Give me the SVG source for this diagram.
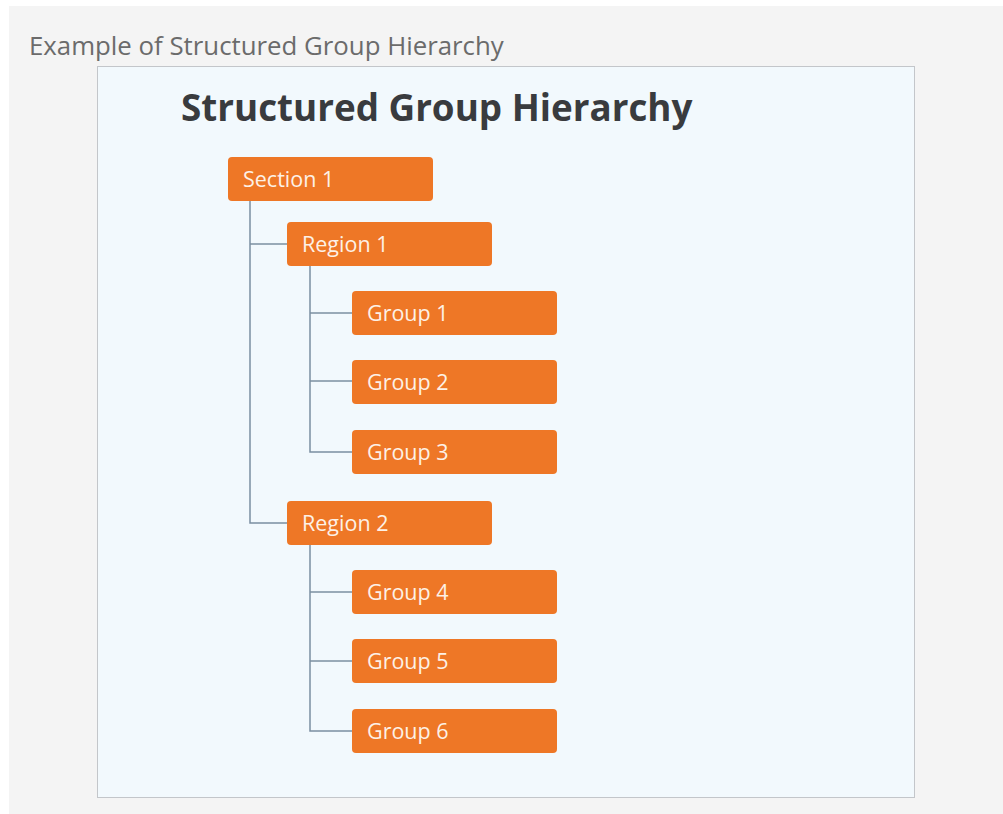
<svg xmlns="http://www.w3.org/2000/svg" width="1003" height="814" viewBox="0 0 1003 814">
<style>
.node rect{fill:#ee7726;}
.node text{font-family:"Open Sans","Liberation Sans",sans-serif;font-size:21.5px;fill:#fdf1e6;}
.conn path{fill:none;stroke:#7b8fa1;stroke-width:1.5;}
</style>
<rect x="0" y="0" width="1003" height="814" fill="#ffffff"/>
<rect x="9" y="6" width="994" height="808" fill="#f4f4f4"/>
<text x="29" y="55" font-family="'Open Sans','Liberation Sans',sans-serif" font-size="25.8" fill="#6b6b6b">Example of Structured Group Hierarchy</text>
<rect x="97.5" y="66.5" width="817" height="731" fill="#f2f9fd" stroke="#c3c6ca" stroke-width="1"/>
<text x="181" y="121" font-family="'Open Sans','Liberation Sans',sans-serif" font-size="36.8" font-weight="bold" fill="#393b3e">Structured Group Hierarchy</text>
<g class="conn">
<path d="M250 200 V523 H287"/>
<path d="M250 244 H287"/>
<path d="M310 265 V452 H352"/>
<path d="M310 313 H352"/>
<path d="M310 381 H352"/>
<path d="M310 544 V731 H352"/>
<path d="M310 592 H352"/>
<path d="M310 661 H352"/>
</g>
<g id="section1" class="node"><rect x="228" y="157" width="205" height="44" rx="4"/><text x="243" y="187">Section 1</text></g>
<g id="region1" class="node"><rect x="287" y="222" width="205" height="44" rx="4"/><text x="302" y="252">Region 1</text></g>
<g id="group1" class="node"><rect x="352" y="291" width="205" height="44" rx="4"/><text x="367" y="321">Group 1</text></g>
<g id="group2" class="node"><rect x="352" y="360" width="205" height="44" rx="4"/><text x="367" y="390">Group 2</text></g>
<g id="group3" class="node"><rect x="352" y="430" width="205" height="44" rx="4"/><text x="367" y="460">Group 3</text></g>
<g id="region2" class="node"><rect x="287" y="501" width="205" height="44" rx="4"/><text x="302" y="531">Region 2</text></g>
<g id="group4" class="node"><rect x="352" y="570" width="205" height="44" rx="4"/><text x="367" y="600">Group 4</text></g>
<g id="group5" class="node"><rect x="352" y="639" width="205" height="44" rx="4"/><text x="367" y="669">Group 5</text></g>
<g id="group6" class="node"><rect x="352" y="709" width="205" height="44" rx="4"/><text x="367" y="739">Group 6</text></g>
</svg>
